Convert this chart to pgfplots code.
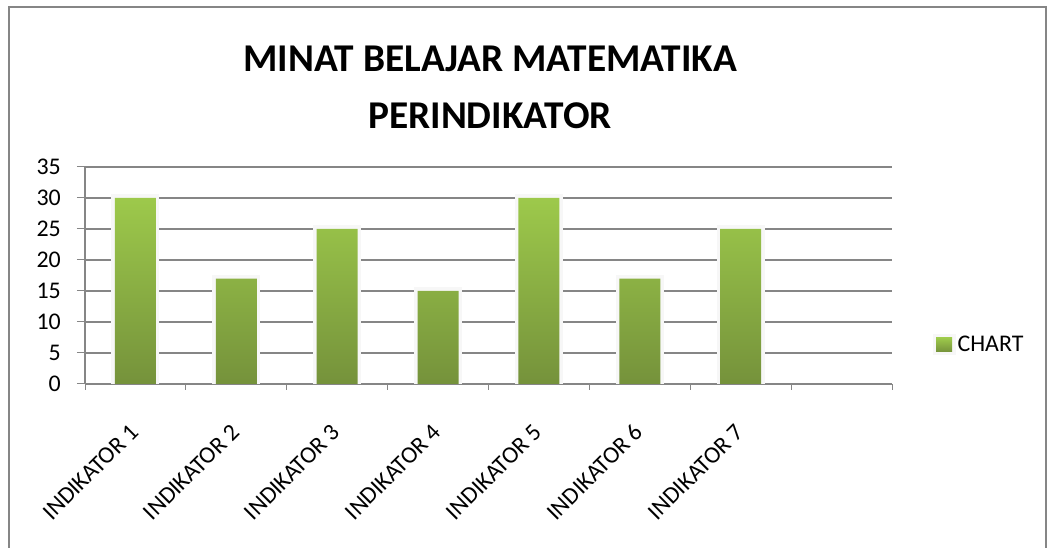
\documentclass[border=0pt]{standalone}
\usepackage{pgfplots}
\pgfplotsset{compat=1.18}
\usepackage{fontspec}
\setmainfont{Carlito}
\definecolor{bartop}{HTML}{9DC94B}
\definecolor{barbot}{HTML}{75923B}
\definecolor{axgray}{HTML}{868686}
\begin{document}
\begin{tikzpicture}[x=1bp,y=1bp]
\useasboundingbox (0,0) rectangle (1047,548);
\draw[axgray, line width=2bp] (8.5,-10) -- (8.5,540.5) -- (1045.5,540.5) -- (1045.5,-10);
\node[font=\bfseries\fontsize{39.5}{57}\selectfont, align=center] at (490,461) {MINAT BELAJAR MATEMATIKA\\PERINDIKATOR};
\begin{axis}[
  at={(85bp,164bp)}, anchor=south west,
  scale only axis, width=807bp, height=217bp,
  xmin=-0.5, xmax=7.5, ymin=0, ymax=35,
  ytick={0,5,...,35},
  xtick={0,...,6},
  xticklabels={INDIKATOR 1,INDIKATOR 2,INDIKATOR 3,INDIKATOR 4,INDIKATOR 5,INDIKATOR 6,INDIKATOR 7},
  minor xtick={-0.5,0.5,...,7.5},
  major x tick style={draw=none},
  tick align=outside,
  major tick length=8bp, minor tick length=6bp,
  tick style={axgray, line width=1bp},
  axis x line*=bottom, axis y line*=left,
  axis line style={-, axgray, line width=1.3bp},
  ymajorgrids, grid style={axgray, line width=1.3bp},
  /pgf/number format/assume math mode=true,
  ticklabel style={font=\fontsize{24}{28}\selectfont},
  yticklabel style={inner sep=0pt, xshift=-16bp},
  xticklabel style={inner sep=0pt, xshift=-1bp, yshift=-36bp, rotate=45, anchor=east},
  legend style={draw=none, fill=none, at={(1.05,0.18)}, anchor=west, font=\fontsize{24}{28}\selectfont, inner sep=0pt},
  legend image code/.code={\fill[top color=bartop, bottom color=barbot] (0bp,-7bp) rectangle (16bp,7bp);},
]
\addplot[ybar, bar width=41bp, draw=none, top color=bartop, bottom color=barbot,
  preaction={draw=black!3, line width=7bp}]
  coordinates {(0,30) (1,17) (2,25) (3,15) (4,30) (5,17) (6,25)};
\addlegendentry{CHART}
\end{axis}
\end{tikzpicture}
\end{document}
